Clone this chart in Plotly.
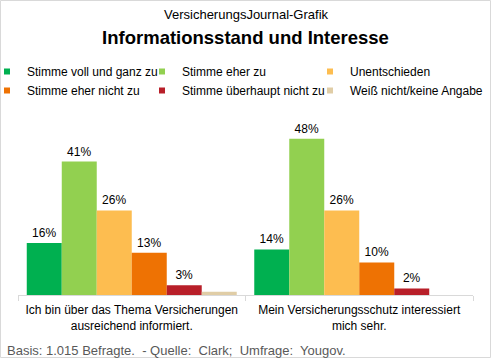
import plotly.graph_objects as go

categories = ["Ich bin über das Thema Versicherungen<br>ausreichend informiert.",
              "Mein Versicherungsschutz interessiert<br>mich sehr."]
series_names = ["Stimme voll und ganz zu", "Stimme eher zu", "Unentschieden",
                "Stimme eher nicht zu", "Stimme überhaupt nicht zu", "Weiß nicht/keine Angabe"]
voll_und_ganz = [16, 14]
eher_zu = [41, 48]
unentschieden = [26, 26]
eher_nicht = [13, 10]
ueberhaupt_nicht = [3, 2]
weiss_nicht = [1, 0]
series_colors = ["#00B050", "#92D050", "#FDBD50", "#EE7203", "#B81F29", "#E0CDA6"]
show_labels = [True, True, True, True, True, False]
legend_ids = ["legend", "legend2", "legend3", "legend", "legend2", "legend3"]

series_values = [voll_und_ganz, eher_zu, unentschieden, eher_nicht, ueberhaupt_nicht, weiss_nicht]

FONT = "Arial, Liberation Sans, sans-serif"
W, H = 491, 358
ML, MR, MT, MB = 18, 18, 130, 63
pw = W - ML - MR
ph = H - MT - MB


def px_x(x):
    return (x - ML) / pw


def px_y(y):
    return (H - MB - y) / ph


fig = go.Figure()
for i, (name, vals, col, lab, lg) in enumerate(zip(series_names, series_values, series_colors,
                                                   show_labels, legend_ids)):
    fig.add_trace(go.Bar(
        name=name, x=categories, y=vals,
        marker=dict(color=col, line=dict(width=0)),
        text=[f"{v}%" for v in vals] if lab else None,
        textposition="outside",
        textfont=dict(family=FONT, size=12, color="#000000"),
        cliponaxis=False,
        hoverinfo="skip",
        showlegend=False,
        legendgroup=f"g{i}",
    ))
    # legend entry with a small square symbol
    fig.add_trace(go.Scatter(
        name=name, x=[None], y=[None], mode="markers",
        marker=dict(symbol="square", size=6, color=col, line=dict(width=0)),
        showlegend=True, legendgroup=f"g{i}", hoverinfo="skip", legend=lg,
    ))

fig.add_shape(type="rect", xref="paper", yref="paper",
              x0=px_x(0.5), x1=px_x(W - 0.5),
              y0=px_y(H - 0.5), y1=px_y(0.5),
              line=dict(color="#d9d9d9", width=1), layer="below")

fig.add_annotation(text="VersicherungsJournal-Grafik", xref="paper", yref="paper",
                   x=px_x(246), y=px_y(15), showarrow=False,
                   font=dict(family=FONT, size=13, color="#000000"),
                   xanchor="center", yanchor="middle")
fig.add_annotation(text="Basis: 1.015 Befragte.\u00a0 - Quelle:\u00a0 Clark;\u00a0 Umfrage:\u00a0 Yougov.",
                   xref="paper", yref="paper",
                   x=px_x(5), y=px_y(350), showarrow=False,
                   font=dict(family=FONT, size=13, color="#595959"),
                   xanchor="left", yanchor="middle")

legend_common = dict(orientation="v", xref="paper", yref="paper", xanchor="left",
                     y=px_y(57), yanchor="top",
                     font=dict(family=FONT, size=12, color="#000000"),
                     traceorder="normal", bgcolor="rgba(0,0,0,0)", borderwidth=0)

fig.update_layout(
    width=W, height=H,
    margin=dict(l=ML, r=MR, t=MT, b=MB, pad=0, autoexpand=False),
    paper_bgcolor="white", plot_bgcolor="white",
    font=dict(family=FONT, size=12, color="#000000"),
    title=dict(text="<b>Informationsstand und Interesse</b>",
               x=0.5, xref="container", xanchor="center",
               y=1 - 38 / H, yref="container", yanchor="middle",
               font=dict(family=FONT, size=18.5, color="#000000")),
    barmode="group", bargap=0.077, bargroupgap=0,
    showlegend=True,
    legend=dict(x=px_x(-13), **legend_common),
    legend2=dict(x=px_x(142), **legend_common),
    legend3=dict(x=px_x(310), **legend_common),
    xaxis=dict(showline=True, linecolor="#d9d9d9", linewidth=1,
               ticks="outside", tickson="boundaries", tickcolor="#d9d9d9",
               ticklen=5, showgrid=False, ticklabelstandoff=4,
               tickfont=dict(family=FONT, size=12, color="#000000")),
    yaxis=dict(range=[0, 50.7], visible=False, showgrid=False, zeroline=False),
)

fig.write_html("out.html", config={"displayModeBar": False},
               post_script="document.body.style.margin='0';")
